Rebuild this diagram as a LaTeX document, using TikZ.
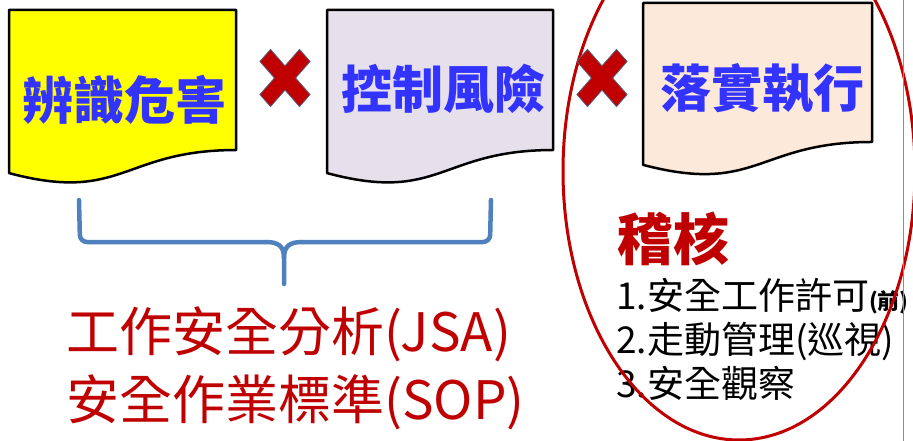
\documentclass[tikz,border=0pt]{standalone}
\usepackage{fontspec}
\setmainfont{Noto Sans CJK TC}
\definecolor{docblue}{RGB}{51,51,255}
\definecolor{xred}{RGB}{192,0,0}
\definecolor{xedge}{RGB}{80,100,130}
\definecolor{bracecol}{RGB}{79,129,189}
\definecolor{gline}{RGB}{130,160,70}
\definecolor{fillA}{RGB}{255,255,0}
\definecolor{fillB}{RGB}{229,224,236}
\definecolor{fillC}{RGB}{253,233,217}
\newcommand\docshape[5]{%
  \filldraw[fill=#5, draw=black, line width=2.5pt, line join=round]
    (#1,#2) -- ({#1+#3},#2) -- ({#1+#3},{#2+0.802*#4})
    .. controls ({#1+0.5*#3},{#2+0.802*#4}) and ({#1+0.5*#3},{#2+1.1075*#4}) ..
    (#1,{#2+0.934*#4}) -- cycle;}
\tikzset{
  doctext/.style={text=docblue, font=\fontsize{51}{60}\selectfont\bfseries, inner sep=0pt},
  redtext/.style={text=xred, font=\fontsize{53}{62}\selectfont, inner sep=0pt, anchor=base west},
  listtext/.style={text=black, font=\fontsize{37}{44}\selectfont, inner sep=0pt, anchor=base west},
  xmark/.pic={
    \begin{scope}[yscale=1.14, rotate=45]
      \filldraw[fill=xred, draw=xedge, line width=0.8pt]
        (7.5,28) -- (7.5,7.5) -- (28,7.5) -- (28,-7.5) -- (7.5,-7.5) -- (7.5,-28)
        -- (-7.5,-28) -- (-7.5,-7.5) -- (-28,-7.5) -- (-28,7.5) -- (-7.5,7.5) -- (-7.5,28) -- cycle;
    \end{scope}}
}
\begin{document}
\begin{tikzpicture}[x=1pt, y=-1pt]
\useasboundingbox (0,0) rectangle (913,441);
\fill[white] (0,0) rectangle (913,441);
% documents
\docshape{9}{10}{227}{174.6}{fillA}
\docshape{327}{10}{226}{174.6}{fillB}
\docshape{643}{3}{229}{173.3}{fillC}
\node[doctext] (t1) at (124,100) {辨識危害};
\node[doctext] (t2) at (443,89) {控制風險};
\node[doctext] (t3) at (762,88) {落實執行};
% brace
\coordinate (bl) at (79,200);
\coordinate (br) at (491,200);
\coordinate (bt) at (284,284);
\draw[bracecol, line width=4.5pt, line cap=round, line join=round, rounded corners=7pt]
  (bl) -- (80,242) -- (266,242);
\draw[bracecol, line width=4.5pt, line cap=round, line join=round]
  (266,242) .. controls (278,242) and (284,246) .. (284,258) -- (bt);
\draw[bracecol, line width=4.5pt, line cap=round, line join=round, rounded corners=7pt]
  (br) -- (490,242) -- (302,242);
\draw[bracecol, line width=4.5pt, line cap=round, line join=round]
  (302,242) .. controls (290,242) and (284,246) .. (284,258);
% red texts
\node[redtext] (jsa) at (66,351) {工作安全分析(JSA)};
\node[redtext] (sop) at (66,419) {安全作業標準(SOP)};
\node[redtext, font=\fontsize{56}{62}\selectfont\bfseries] (audit) at (617,260) {稽核};
\node[listtext] (l1) at (616,309) {1.安全工作許可{\fontsize{22}{24}\selectfont\bfseries(前)}};
\node[listtext] (l2) at (616,353) {2.走動管理(巡視)};
\node[listtext] (l3) at (616,397) {3.安全觀察};
% ellipse
\draw[xred, line width=3pt] (739,171) ellipse [x radius=176pt, y radius=269pt];
% x marks
\pic (x1) at (285,78) {xmark};
\pic (x2) at (602,78) {xmark};
% green line
\draw[gline, line width=1pt] (903,0) -- (903,441);
\end{tikzpicture}
\end{document}
